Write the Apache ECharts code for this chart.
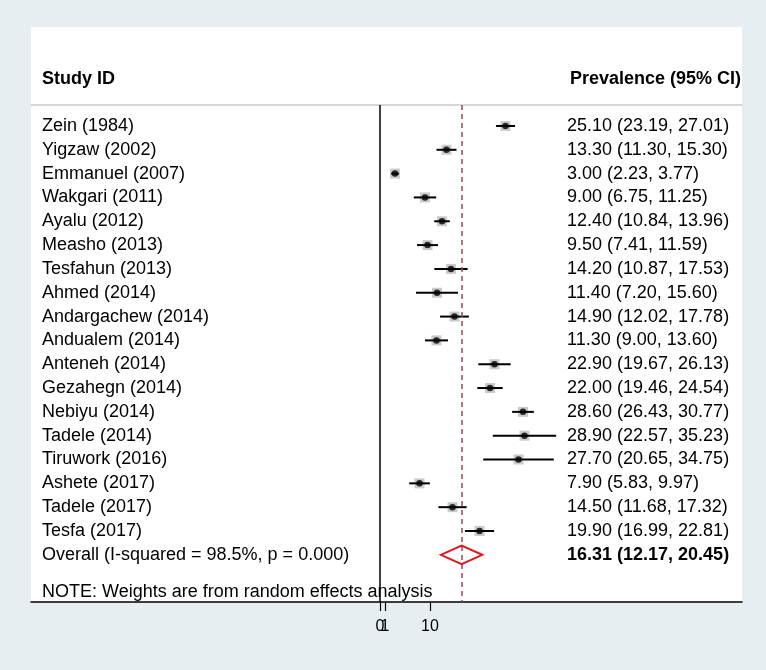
<!DOCTYPE html>
<html><head><meta charset="utf-8">
<script src="https://cdn.jsdelivr.net/npm/echarts@6/dist/echarts.min.js"></script>
<style>html,body{margin:0;padding:0;background:#e7eef1}#c{width:766px;height:670px}</style>
</head><body><div id="c"></div>
<script>
const studies = ['Zein (1984)', 'Yigzaw (2002)', 'Emmanuel (2007)', 'Wakgari (2011)', 'Ayalu (2012)', 'Measho (2013)', 'Tesfahun (2013)', 'Ahmed (2014)', 'Andargachew (2014)', 'Andualem (2014)', 'Anteneh (2014)', 'Gezahegn (2014)', 'Nebiyu (2014)', 'Tadele (2014)', 'Tiruwork (2016)', 'Ashete (2017)', 'Tadele (2017)', 'Tesfa (2017)'];
const estimates = [25.10, 13.30, 3.00, 9.00, 12.40, 9.50, 14.20, 11.40, 14.90, 11.30, 22.90, 22.00, 28.60, 28.90, 27.70, 7.90, 14.50, 19.90];
const lower = [23.19, 11.30, 2.23, 6.75, 10.84, 7.41, 10.87, 7.20, 12.02, 9.00, 19.67, 19.46, 26.43, 22.57, 20.65, 5.83, 11.68, 16.99];
const upper = [27.01, 15.30, 3.77, 11.25, 13.96, 11.59, 17.53, 15.60, 17.78, 13.60, 26.13, 24.54, 30.77, 35.23, 34.75, 9.97, 17.32, 22.81];
const overallLabel = 'Overall (I-squared = 98.5%, p = 0.000)';
const overall = [12.17, 16.31, 20.45]; // lower, estimate, upper
const tickValues = [0, 1, 10];
const tickLabels = ['0', '1', '10'];
const headerLeft = 'Study ID';
const headerRight = 'Prevalence (95% CI)';
const note = 'NOTE: Weights are from random effects analysis';

const FONT = '"Liberation Sans", Arial, Helvetica, sans-serif';
const FS = 18;
const nRows = studies.length; // overall row index
const rowIdx = studies.map((_, i) => i).concat([nRows]);
const fmt = v => v.toFixed(2);
const rightText = estimates.map((e, i) => fmt(e) + ' (' + fmt(lower[i]) + ', ' + fmt(upper[i]) + ')')
  .concat([fmt(overall[1]) + ' (' + fmt(overall[0]) + ', ' + fmt(overall[2]) + ')']);
const leftText = studies.concat([overallLabel]);

const X_MIN = -69.8, X_MAX = 72.4, Y_MIN = -0.88, Y_MAX = 19.98;

const chart = echarts.init(document.getElementById('c'), null, {renderer: 'canvas'});
const ySide = (pos, texts, margin) => ({
  type: 'value', position: pos, inverse: true, min: Y_MIN, max: Y_MAX,
  axisLine: {show: false}, axisTick: {show: false}, splitLine: {show: false},
  axisLabel: {
    show: true, inside: true, customValues: rowIdx, margin: margin, align: 'left',
    hideOverlap: false, showMinLabel: true, showMaxLabel: true,
    color: '#000', fontFamily: FONT, fontSize: FS,
    formatter: v => {
      const i = Math.round(v);
      const t = texts[i] || '';
      return (pos === 'right' && i === nRows) ? '{b|' + t + '}' : t;
    },
    rich: {b: {fontWeight: 'bold', fontFamily: FONT, fontSize: FS, color: '#000'}}
  }
});
const tickLabelFmt = v => { const k = tickValues.findIndex(t => Math.abs(t - v) < 1e-9); return k >= 0 ? tickLabels[k] : ''; };
// split tick labels over two bottom axes so overlapping labels are both drawn
const ticksA = tickValues.filter((_, k) => k % 2 === 0);
const ticksB = tickValues.filter((_, k) => k % 2 === 1);
const bottomLabelStyle = {show: true, margin: 17, hideOverlap: false, showMinLabel: true, showMaxLabel: true,
  color: '#000', fontFamily: FONT, fontSize: 16, formatter: tickLabelFmt};

const option = {
  backgroundColor: '#e7eef1',
  animation: false,
  graphic: [{
    type: 'rect', silent: true, z: -10,
    shape: {x: 31, y: 27, width: 711, height: 575},
    style: {fill: '#ffffff'}
  }],
  title: [
    {text: headerLeft, left: 42, top: 69, padding: 0,
     textStyle: {fontFamily: FONT, fontSize: FS, fontWeight: 'bold', color: '#000', lineHeight: 20}},
    {text: headerRight, right: 25, top: 69, padding: 0,
     textStyle: {fontFamily: FONT, fontSize: FS, fontWeight: 'bold', color: '#000', lineHeight: 20}},
    {text: note, left: 42, top: 582, padding: 0,
     textStyle: {fontFamily: FONT, fontSize: FS, fontWeight: 'normal', color: '#000', lineHeight: 20}}
  ],
  grid: {left: 31, right: 24, top: 105, bottom: 68, containLabel: false, outerBoundsMode: 'none'},
  xAxis: [{
    type: 'value', position: 'bottom', min: X_MIN, max: X_MAX,
    axisLine: {show: true, onZero: false, lineStyle: {color: '#000', width: 1.5}},
    axisTick: {show: true, customValues: ticksA, length: 9, lineStyle: {color: '#000', width: 1.2}},
    axisLabel: Object.assign({customValues: ticksA}, bottomLabelStyle),
    splitLine: {show: false}
  }, {
    type: 'value', position: 'top', min: X_MIN, max: X_MAX,
    axisLine: {show: true, onZero: false, lineStyle: {color: '#c9c9c9', width: 1.5}},
    axisTick: {show: false}, axisLabel: {show: false}, splitLine: {show: false}
  }, {
    type: 'value', position: 'bottom', offset: 0, min: X_MIN, max: X_MAX,
    axisLine: {show: false, onZero: false},
    axisTick: {show: true, customValues: ticksB, length: 9, lineStyle: {color: '#000', width: 1.2}},
    axisLabel: Object.assign({customValues: ticksB}, bottomLabelStyle),
    splitLine: {show: false}
  }],
  yAxis: [
    {type: 'value', inverse: true, min: Y_MIN, max: Y_MAX, show: false},
    ySide('left', leftText, 11),
    ySide('right', rightText, 175)
  ],
  series: [
    {
      type: 'scatter', name: 'weight', xAxisIndex: 0, yAxisIndex: 0, z: 2, silent: true,
      symbol: 'rect', symbolSize: 10, itemStyle: {color: '#bdbdbd'},
      data: estimates.map((v, i) => [v, i])
    },
    {
      type: 'custom', name: 'ci', xAxisIndex: 0, yAxisIndex: 0, z: 3, silent: true,
      encode: {x: [0, 1], y: 2},
      data: lower.map((l, i) => [l, upper[i], i]),
      renderItem: (params, api) => {
        const p1 = api.coord([api.value(0), api.value(2)]);
        const p2 = api.coord([api.value(1), api.value(2)]);
        return {type: 'line', shape: {x1: p1[0], y1: p1[1], x2: p2[0], y2: p2[1]},
                style: {stroke: '#000', lineWidth: 2}};
      }
    },
    {
      type: 'scatter', name: 'estimate', xAxisIndex: 0, yAxisIndex: 0, z: 4, silent: true,
      symbol: 'circle', symbolSize: 6.5, itemStyle: {color: '#000'},
      data: estimates.map((v, i) => [v, i]),
      markLine: {
        silent: true, symbol: 'none', label: {show: false},
        data: [
          {xAxis: 0, lineStyle: {color: '#000', width: 1.5, type: 'solid'}},
          {xAxis: overall[1], lineStyle: {color: '#9e4750', width: 1.5, type: [5, 4]}}
        ]
      }
    },
    {
      type: 'custom', name: 'overall', xAxisIndex: 0, yAxisIndex: 0, z: 5, silent: true,
      encode: {x: [0, 1, 2], y: 3},
      data: [[overall[0], overall[1], overall[2], nRows]],
      renderItem: (params, api) => {
        const r = api.value(3);
        const a = api.coord([api.value(0), r]);
        const m = api.coord([api.value(1), r]);
        const b = api.coord([api.value(2), r]);
        const h = 9.3;
        return {type: 'polygon', shape: {points: [[a[0], a[1]], [m[0], m[1] - h], [b[0], b[1]], [m[0], m[1] + h]]},
                style: {fill: 'none', stroke: '#e3161d', lineWidth: 2}};
      }
    }
  ]
};
chart.setOption(option);
</script></body></html>
